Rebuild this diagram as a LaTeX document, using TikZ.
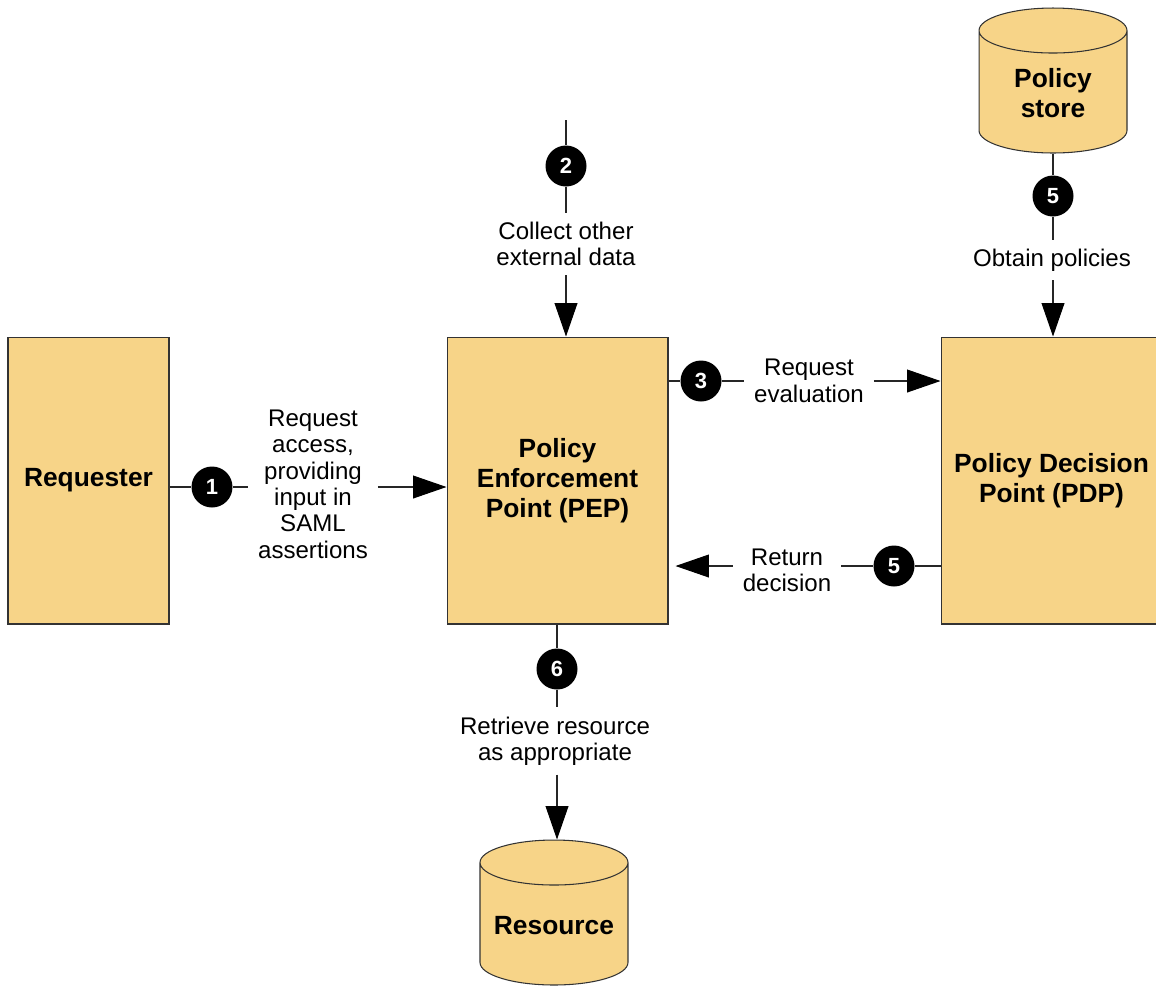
\documentclass[tikz,border=0pt]{standalone}
\usepackage{fontspec}
\setmainfont{Liberation Sans}
\usetikzlibrary{arrows.meta,shapes.geometric}
\definecolor{boxfill}{HTML}{F7D488}
\begin{document}
\begin{tikzpicture}[x=0.02cm,y=-0.02cm,
  box/.style={draw=black!80,fill=boxfill,line width=0.6pt,minimum width=4.42cm,
    minimum height=5.74cm,align=center,font=\fontsize{15}{17}\selectfont\bfseries},
  store/.style={cylinder,shape border rotate=90,aspect=1,inner sep=0.45cm,draw=black!80,
    fill=boxfill,line width=0.6pt,minimum width=2.96cm,minimum height=2.9cm,anchor=shape center},
  storetext/.style={align=center,inner sep=0pt,font=\fontsize{15}{17}\selectfont\bfseries},
  num/.style={circle,fill=black,text=white,minimum size=0.82cm,inner sep=0pt,
    font=\fontsize{12.5}{14}\selectfont\bfseries},
  lbl/.style={align=center,inner xsep=5.5pt,inner ysep=5pt,
    font=\fontsize{13.7}{15}\selectfont},
  wire/.style={draw=black!85,line width=0.6pt},
  arr/.style={wire,-{Triangle[length=19pt,width=13pt,fill=black,color=black]}}]
\useasboundingbox[fill=white] (0,0) rectangle (1156,985);
% boxes and stores
\node[box,minimum width=3.22cm] (req) at (88.5,480.5) {Requester};
\node[box] (pep) at (557.5,480.5) {Policy\\Enforcement\\Point (PEP)};
\node[box] (pdp) at (1051.5,480.5) {Policy Decision\\Point (PDP)};
\node[store] (pstore) at (1053,80.5) {};
\node[storetext] (pstoretxt) at (1053,93) {Policy\\store};
\node[store] (res) at (554,912.5) {};
\node[storetext] (restxt) at (554,926) {Resource};
% 1: request access
\node[num] (n1) at (212,487) {1};
\node[lbl] (t1) at (313,484) {Request\\access,\\providing\\input in\\SAML\\assertions};
\draw[wire] (req.east |- n1) -- (n1) -- (t1.west |- n1);
\draw[arr] (t1.east |- n1) -- (pep.west |- n1);
% 2: external data
\coordinate (top2) at (566,120);
\node[num] (n2) at (566,166) {2};
\node[lbl] (t2) at (566,244) {Collect other\\external data};
\draw[wire] (top2) -- (n2) -- (n2 |- t2.north);
\draw[arr] (n2 |- t2.south) -- (n2 |- pep.north);
% 3: evaluation
\node[num] (n3) at (701,381) {3};
\node[lbl] (t3) at (809,381) {Request\\evaluation};
\draw[wire] (pep.east |- n3) -- (n3) -- (t3.west |- n3);
\draw[arr] (t3.east |- n3) -- (pdp.west |- n3);
% 5: decision
\node[num] (n5a) at (894,566) {5};
\node[lbl] (t5a) at (787,570) {Return\\decision};
\draw[wire] (pdp.west |- n5a) -- (n5a) -- (t5a.east |- n5a);
\draw[arr,shorten >=0.14cm] (t5a.west |- n5a) -- (pep.east |- n5a);
% 5: policies
\node[num] (n5b) at (1053,196) {5};
\node[lbl] (t5b) at (1052,260) {Obtain policies};
\draw[wire] (n5b |- pstore.south) -- (n5b) -- (n5b |- t5b.north);
\draw[arr] (n5b |- t5b.south) -- (n5b |- pdp.north);
% 6: resource
\node[num] (n6) at (557,669) {6};
\node[lbl] (t6) at (555,741) {Retrieve resource\\as appropriate};
\draw[wire] (n6 |- pep.south) -- (n6) -- (n6 |- t6.north);
\draw[arr] (n6 |- t6.south) -- (n6 |- res.north);
\end{tikzpicture}
\end{document}
